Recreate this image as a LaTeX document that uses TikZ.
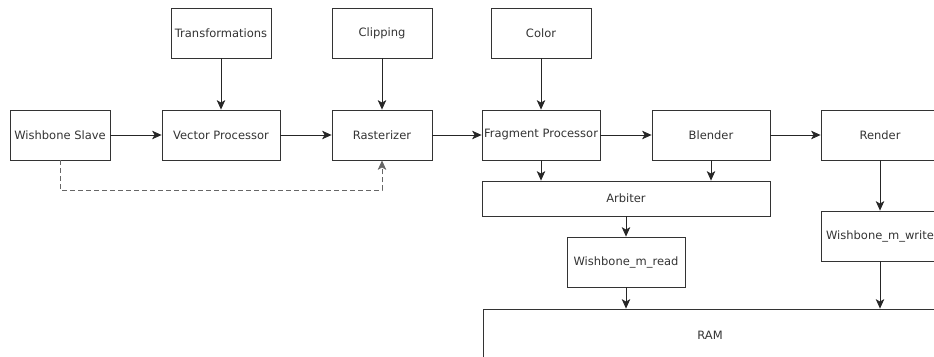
\documentclass[tikz,border=0pt]{standalone}
\usepackage{fontspec}
\setmainfont{DejaVu Sans}
\usetikzlibrary{arrows.meta}
\tikzset{
  block/.style={draw=black!80, line width=0.8pt, minimum width=118pt, minimum height=50pt,
                inner sep=0pt, text=black!80, font=\fontsize{11.5}{13}\selectfont},
  flow/.style={-{Stealth[length=9.5pt,width=8.5pt,inset=2.5pt]}, line width=0.8pt, draw=black!85},
}
\begin{document}
\begin{tikzpicture}[x=1pt, y=-1pt]
    \clip (0,0) rectangle (934,356);
    % settings on top
    \node[block, minimum width=100pt] (trans) at (221,33) {Transformations};
    \node[block, minimum width=100pt] (clipping) at (382,33) {Clipping};
    \node[block, minimum width=100pt] (color) at (541,33) {Color};
    % pipeline
    \node[block, minimum width=100pt] (slave) at (60,135) {Wishbone Slave};
    \node[block] (vector) at (221,135) {Vector Processor};
    \node[block, minimum width=100pt] (raster) at (382,135) {Rasterizer};
    \node[block] (frag) at (541,135) {Fragment Processor};
    \node[block] (blender) at (711,135) {Blender};
    \node[block] (render) at (880,135) {Render};
    % memory side
    \node[block, minimum width=288pt, minimum height=35pt] (arbiter) at (626,198.5) {Arbiter};
    \node[block] (mread) at (626,262) {Wishbone\_m\_read};
    \node[block] (mwrite) at (880,236) {Wishbone\_m\_write};
    \node[block, minimum width=454pt, minimum height=52pt] (ram) at (710,335) {RAM};

    \draw[flow] (trans) -- (vector);
    \draw[flow] (clipping) -- (raster);
    \draw[flow] (color) -- (frag);
    \draw[flow] (slave) -- (vector);
    \draw[flow] (vector) -- (raster);
    \draw[flow] (raster) -- (frag);
    \draw[flow] (frag) -- (blender);
    \draw[flow] (blender) -- (render);
    \draw[flow] (frag) -- (frag |- arbiter.north);
    \draw[flow] (blender) -- (blender |- arbiter.north);
    \draw[flow] (arbiter) -- (mread);
    \draw[flow] (mread) -- (mread |- ram.north);
    \draw[flow] (render) -- (mwrite);
    \draw[flow] (mwrite) -- (mwrite |- ram.north);
    \draw[flow, draw=black!60, dash pattern=on 5pt off 3pt] (slave.south) -- ++(0,30) -| (raster.south);
\end{tikzpicture}
\end{document}
